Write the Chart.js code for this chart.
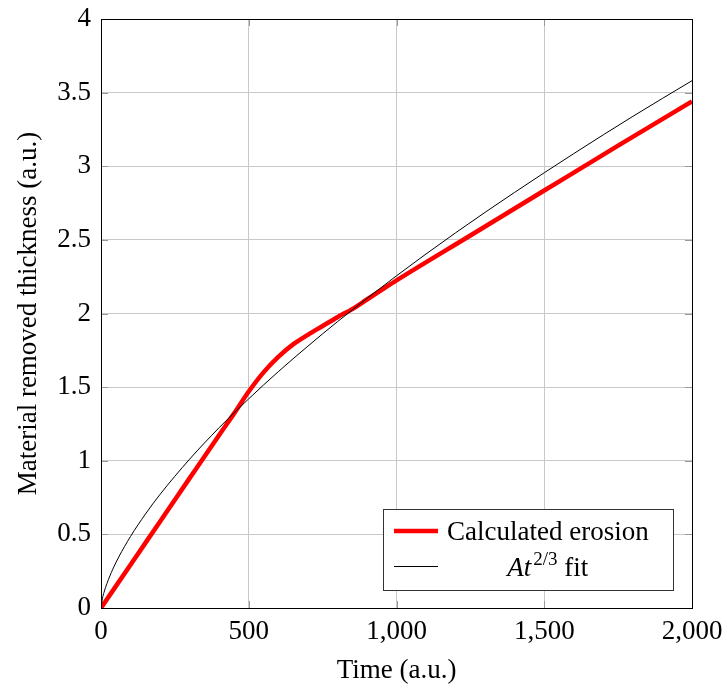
<!DOCTYPE html>
<html>
<head>
<meta charset="utf-8">
<script src="https://cdn.jsdelivr.net/npm/chart.js@4.4.1/dist/chart.umd.min.js"></script>
<style>
  html, body { margin: 0; padding: 0; background: #fff; }
  #wrap { width: 724px; height: 686px; }
</style>
</head>
<body>
<div id="wrap"><canvas id="chart" width="724" height="686"></canvas></div>
<script>
// values
const erosionTime = [0, 100, 200, 300, 400, 450, 500, 550, 600, 650, 700, 750, 800, 850, 900, 950, 1000, 1250, 1500, 1750, 2000];
const erosionDepth = [0, 0.294, 0.588, 0.882, 1.175, 1.32, 1.47, 1.60, 1.705, 1.79, 1.855, 1.915, 1.975, 2.03, 2.095, 2.16, 2.225, 2.53, 2.835, 3.14, 3.44];

const fitTime = [0, 5, 10, 20, 40, 60, 100, 150, 200, 300, 400, 500, 600, 700, 800, 1000, 1200, 1400, 1600, 1800, 2000];
const fitDepth = [0, 0.066, 0.105, 0.166, 0.264, 0.346, 0.486, 0.637, 0.772, 1.011, 1.225, 1.421, 1.605, 1.778, 1.944, 2.256, 2.548, 2.823, 3.086, 3.339, 3.581];

const xTicks = [0, 500, 1000, 1500, 2000];
const yTicks = [0, 0.5, 1, 1.5, 2, 2.5, 3, 3.5, 4];

const seriesNames = ['Calculated erosion', 'At^{2/3} fit'];

const FONT = '"Liberation Serif", "Times New Roman", serif';
const FS = 27;

Chart.defaults.font.family = FONT;
Chart.defaults.font.size = FS;
Chart.defaults.color = '#000';

function toPoints(xs, ys) {
    return xs.map((x, i) => ({ x: x, y: ys[i] }));
}

// frame + inward ticks, pgfplots style
const framePlugin = {
    id: 'frame',
    afterDatasetsDraw(chart) {
        const { ctx, chartArea: a, scales } = chart;
        ctx.save();
        ctx.strokeStyle = '#999';
        ctx.lineWidth = 1;
        const len = 7;
        xTicks.forEach(v => {
            const px = Math.round(scales.x.getPixelForValue(v)) + 0.5;
            ctx.beginPath();
            ctx.moveTo(px, a.bottom); ctx.lineTo(px, a.bottom - len);
            ctx.moveTo(px, a.top); ctx.lineTo(px, a.top + len);
            ctx.stroke();
        });
        yTicks.forEach(v => {
            const py = Math.round(scales.y.getPixelForValue(v)) + 0.5;
            ctx.beginPath();
            ctx.moveTo(a.left, py); ctx.lineTo(a.left + len, py);
            ctx.moveTo(a.right, py); ctx.lineTo(a.right - len, py);
            ctx.stroke();
        });
        ctx.strokeStyle = '#000';
        ctx.strokeRect(Math.round(a.left) + 0.5, Math.round(a.top) + 0.5,
            Math.round(a.right - a.left), Math.round(a.bottom - a.top));
        ctx.restore();
    }
};

// legend box sitting in the lower right corner of the plot
const legendPlugin = {
    id: 'boxLegend',
    afterDraw(chart) {
        const { ctx, chartArea: a } = chart;
        const right = a.right - 19, bottom = a.bottom - 18;
        const w = 290, h = 81;
        const left = right - w, top = bottom - h;
        ctx.save();
        ctx.fillStyle = '#fff';
        ctx.fillRect(left, top, w, h);
        ctx.strokeStyle = '#333';
        ctx.lineWidth = 1;
        ctx.strokeRect(Math.round(left) + 0.5, Math.round(top) + 0.5, w, h);

        // samples
        ctx.strokeStyle = '#ff0000';
        ctx.lineWidth = 4.5;
        ctx.beginPath();
        ctx.moveTo(left + 11, top + 22); ctx.lineTo(left + 55, top + 22);
        ctx.stroke();
        ctx.strokeStyle = '#000';
        ctx.lineWidth = 1;
        ctx.beginPath();
        ctx.moveTo(left + 11, top + 57.5); ctx.lineTo(left + 55, top + 57.5);
        ctx.stroke();

        // labels
        ctx.fillStyle = '#000';
        ctx.textBaseline = 'alphabetic';
        ctx.textAlign = 'left';
        ctx.font = FS + 'px ' + FONT;
        const textLeft = left + 64;
        const w1 = ctx.measureText(seriesNames[0]).width;
        ctx.fillText(seriesNames[0], textLeft, top + 31);
        const colCenter = textLeft + w1 / 2;

        // At^{2/3} fit
        const italic = 'italic ' + FS + 'px ' + FONT;
        const small = Math.round(FS * 0.72) + 'px ' + FONT;
        const upright = FS + 'px ' + FONT;
        ctx.font = italic; const wA = ctx.measureText('At').width;
        ctx.font = small; const wS = ctx.measureText('2/3').width;
        ctx.font = upright; const wF = ctx.measureText(' fit').width;
        let x = colCenter - (wA + 2 + wS + wF) / 2;
        const base = top + 67;
        ctx.font = italic; ctx.fillText('At', x, base); x += wA + 2;
        ctx.font = small; ctx.fillText('2/3', x, base - 11); x += wS;
        ctx.font = upright; ctx.fillText(' fit', x, base);
        ctx.restore();
    }
};

new Chart(document.getElementById('chart').getContext('2d'), {
    type: 'line',
    data: {
        datasets: [
            {
                label: seriesNames[0],
                data: toPoints(erosionTime, erosionDepth),
                borderColor: '#ff0000',
                borderWidth: 4.5,
                pointRadius: 0,
                cubicInterpolationMode: 'monotone',
                order: 2
            },
            {
                label: seriesNames[1],
                data: toPoints(fitTime, fitDepth),
                borderColor: '#000',
                borderWidth: 1,
                pointRadius: 0,
                cubicInterpolationMode: 'monotone',
                order: 1
            }
        ]
    },
    options: {
        responsive: false,
        animation: false,
        layout: { padding: { top: 19, right: 32, left: 0, bottom: 0 } },
        plugins: { legend: { display: false }, tooltip: { enabled: false } },
        scales: {
            x: {
                type: 'linear',
                min: 0, max: 2000,
                afterBuildTicks: s => { s.ticks = xTicks.map(v => ({ value: v })); },
                afterFit: s => { s.height = 78; s.paddingLeft = 0; s.paddingRight = 0; },
                grid: { color: '#c8c8c8', drawTicks: false },
                border: { display: false },
                ticks: {
                    padding: 8,
                    maxRotation: 0,
                    callback: v => v.toLocaleString('en-US')
                },
                title: { display: true, text: 'Time (a.u.)', padding: { top: 0, bottom: -1 } }
            },
            y: {
                type: 'linear',
                min: 0, max: 4,
                afterBuildTicks: s => { s.ticks = yTicks.map(v => ({ value: v })); },
                afterFit: s => { s.width = 101; s.paddingTop = 0; s.paddingBottom = 0; },
                grid: { color: '#c8c8c8', drawTicks: false },
                border: { display: false },
                ticks: { padding: 10, callback: v => String(v) },
                title: { display: true, text: 'Material removed thickness (a.u.)', padding: { top: 13, bottom: 0 } }
            }
        }
    },
    plugins: [framePlugin, legendPlugin]
});
</script>
</body>
</html>
